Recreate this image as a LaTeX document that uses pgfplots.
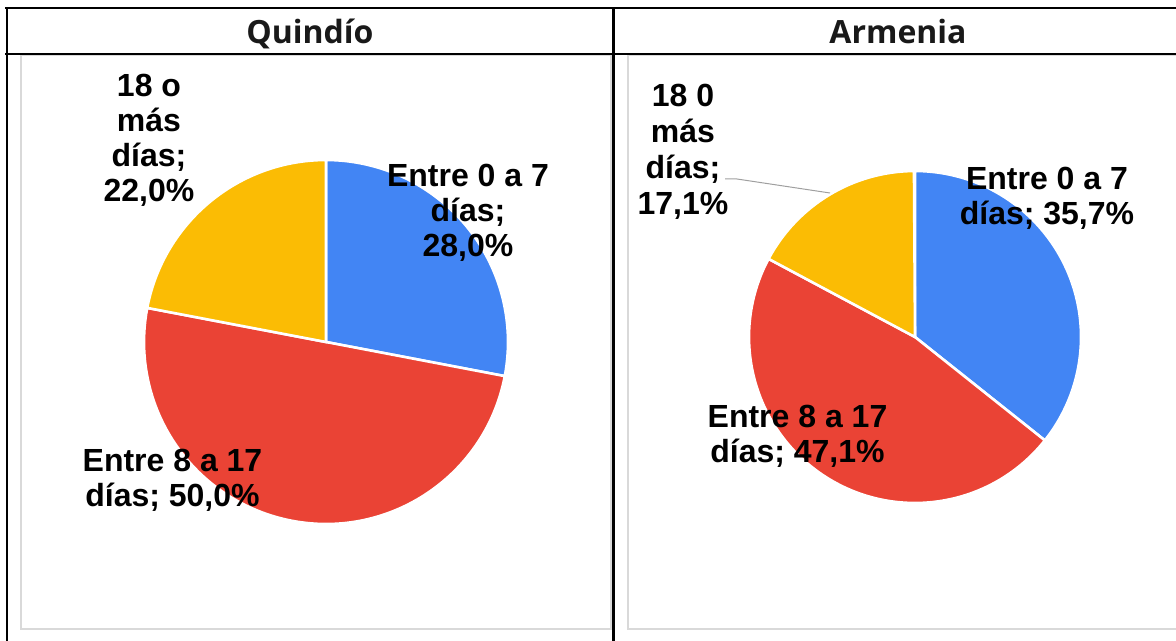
\documentclass[border=0pt]{standalone}
\usepackage{pgfplots}
\pgfplotsset{compat=1.18}
\usepackage{fontspec}
\setmainfont{Liberation Sans}
\newfontfamily\titlefont{Open Sans}
\definecolor{gblue}{HTML}{4285F4}
\definecolor{gred}{HTML}{EA4335}
\definecolor{gyellow}{HTML}{FBBC04}
\definecolor{boxgray}{HTML}{D9D9D9}
% data (percent)
\def\QA{28.0}\def\QB{50.0}\def\QC{22.0}
\def\AA{35.7}\def\AB{47.1}\def\AC{17.1}
\pgfmathsetmacro\QaEnd{90-\QA*3.6}
\pgfmathsetmacro\QbEnd{\QaEnd-\QB*3.6}
\pgfmathsetmacro\QcEnd{\QbEnd-\QC*3.6}
\pgfmathsetmacro\AaEnd{90-\AA*3.6}
\pgfmathsetmacro\AbEnd{\AaEnd-\AB*3.6}
\pgfmathsetmacro\AcEnd{\AbEnd-\AC*3.6}
\newcommand\lblfont{\bfseries\fontsize{16}{19}\selectfont}
\newcommand\lab[3]{\node[anchor=base,font=\lblfont,inner sep=0pt] at (#1,#2) {#3};}
\begin{document}
\begin{tikzpicture}[x=0.5pt,y=-0.5pt]
\useasboundingbox (0,0) rectangle (1176,641);
\coordinate (cQ) at (326,342);
\coordinate (cA) at (915,337);
% chart area boxes
\draw[boxgray, line width=1pt] (21,55) rectangle (611,629);
\draw[boxgray, line width=1pt] (628,55) rectangle (1200,629);
% table lines
\draw[black, line width=1.1pt] (5,8) -- (1176,8);
\draw[black, line width=1.1pt] (5,54) -- (1176,54);
\draw[black, line width=1.1pt] (7,8) -- (7,641);
\draw[black, line width=1.1pt] (613.5,8) -- (613.5,641);
% titles
\node[anchor=base, font=\titlefont\bfseries\fontsize{16}{19}\selectfont, text=black!90, inner sep=0pt] at (310,43.5) {Quindío};
\node[anchor=base, font=\titlefont\bfseries\fontsize{16}{19}\selectfont, text=black!90, inner sep=0pt] at (898,43.5) {Armenia};
% Quindío pie
\begin{axis}[at={(cQ)}, anchor=origin, width=182pt, height=182pt, scale only axis,
  xmin=-1, xmax=1, ymin=-1, ymax=1, hide axis, clip=false]
\addplot[draw=none] coordinates {(0,0)};
\fill[gblue, draw=white, line width=1.3pt] (axis cs:0,0) -- (axis cs:0,1) arc[start angle=90, end angle=\QaEnd, radius=1] -- cycle;
\fill[gred, draw=white, line width=1.3pt] (axis cs:0,0) -- ({cos(\QaEnd)},{sin(\QaEnd)}) arc[start angle=\QaEnd, end angle=\QbEnd, radius=1] -- cycle;
\fill[gyellow, draw=white, line width=1.3pt] (axis cs:0,0) -- ({cos(\QbEnd)},{sin(\QbEnd)}) arc[start angle=\QbEnd, end angle=\QcEnd, radius=1] -- cycle;
\end{axis}
% Armenia pie
\begin{axis}[at={(cA)}, anchor=origin, width=166pt, height=166pt, scale only axis,
  xmin=-1, xmax=1, ymin=-1, ymax=1, hide axis, clip=false]
\addplot[draw=none] coordinates {(0,0)};
\fill[gblue, draw=white, line width=1.3pt] (axis cs:0,0) -- (axis cs:0,1) arc[start angle=90, end angle=\AaEnd, radius=1] -- cycle;
\fill[gred, draw=white, line width=1.3pt] (axis cs:0,0) -- ({cos(\AaEnd)},{sin(\AaEnd)}) arc[start angle=\AaEnd, end angle=\AbEnd, radius=1] -- cycle;
\fill[gyellow, draw=white, line width=1.3pt] (axis cs:0,0) -- ({cos(\AbEnd)},{sin(\AbEnd)}) arc[start angle=\AbEnd, end angle=\AcEnd, radius=1] -- cycle;
\end{axis}
% labels Quindío
\lab{149}{97}{18 o}
\lab{149}{132}{más}
\lab{149}{167}{días;}
\lab{149}{202}{22,0\%}
\lab{468}{187}{Entre 0 a 7}
\lab{468}{222}{días;}
\lab{468}{257}{28,0\%}
\lab{172.5}{471}{Entre 8 a 17}
\lab{172.5}{506}{días; 50,0\%}
% labels Armenia
\draw[gray!75, line width=0.5pt] (725,179) -- (737,179) -- (830,193);
\lab{683}{107}{18 0}
\lab{683}{143}{más}
\lab{683}{179}{días;}
\lab{683}{215}{17,1\%}
\lab{1047}{190}{Entre 0 a 7}
\lab{1047}{225}{días; 35,7\%}
\lab{797.5}{427}{Entre 8 a 17}
\lab{797.5}{462}{días; 47,1\%}
\end{tikzpicture}
\end{document}
